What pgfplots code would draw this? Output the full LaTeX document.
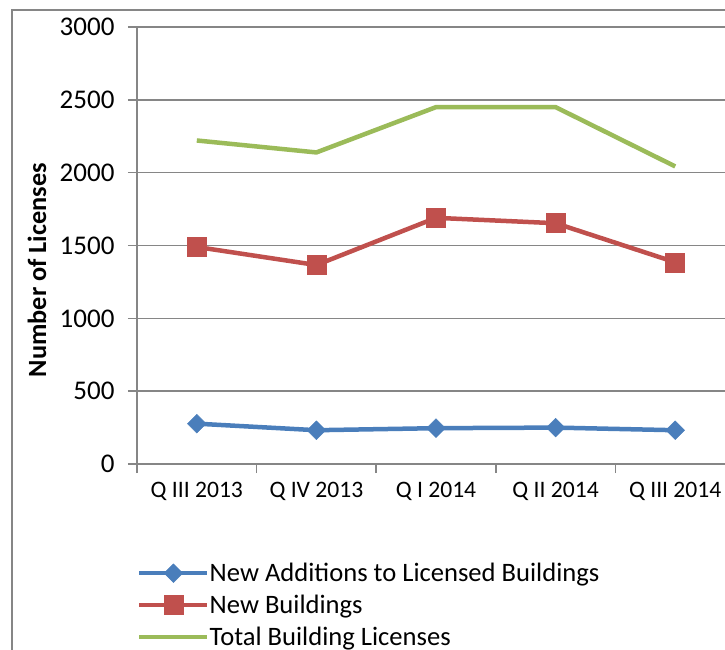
\documentclass[border=0pt]{standalone}
\usepackage{fontspec}
\setmainfont{Carlito}
\usepackage{pgfplots}
\pgfplotsset{compat=1.18}
\definecolor{sblue}{HTML}{4A7EBB}
\definecolor{sred}{HTML}{C0504D}
\definecolor{sgreen}{HTML}{9BBB59}
\definecolor{gridgray}{HTML}{868686}
\begin{document}
\begin{tikzpicture}
\useasboundingbox (0pt,0pt) rectangle (725pt,-649pt);
\clip (0pt,0pt) rectangle (725pt,-649pt);
\draw[gridgray, line width=2pt] (12pt,-660pt) -- (12pt,-10pt) -- (740pt,-10pt);
\begin{pgfinterruptboundingbox}
\begin{axis}[
  at={(137pt,-464pt)}, anchor=south west,
  scale only axis, width=598pt, height=437pt,
  xmin=-0.5, xmax=4.5, ymin=0, ymax=3000,
  axis x line*=bottom, axis y line*=left,
  axis line style={gridgray, line width=1.5pt, -},
  ytick={0,500,...,3000},
  ymajorgrids, grid style={gridgray, line width=1.5pt},
  xtick={-0.5,0.5,1.5,2.5,3.5,4.5}, xticklabels={},
  extra x ticks={0,1,2,3,4},
  extra x tick labels={Q III 2013, Q IV 2013, Q I 2014, Q II 2014, Q III 2014},
  extra x tick style={major tick length=0pt, xticklabel style={yshift=-15pt, font=\fontsize{23.6}{28}\selectfont}},
  yticklabel style={xshift=-10pt},
  tick align=outside, major tick length=9pt,
  tick style={gridgray, line width=1.5pt},
  /pgf/number format/assume math mode=true,
  /pgf/number format/1000 sep={},
  ticklabel style={font=\fontsize{27}{32}\selectfont, text=black},
  legend style={at={(axis description cs:0.0,-0.222)}, anchor=north west,
    draw=none, fill=none, font=\fontsize{26.6}{32}\selectfont,
    row sep=8pt, inner sep=0pt, cells={anchor=west},
    nodes={inner xsep=0pt}},
  legend image code/.code={\draw[mark repeat=2,mark phase=2] plot coordinates {(0pt,0pt) (34pt,0pt) (68pt,0pt)};},
  clip=false,
]
\addplot[sblue, line width=4.5pt, mark=square*, mark size=6.6pt,
  mark options={rotate=45, line width=0.5pt, solid}]
  coordinates {(0,277) (1,232) (2,246) (3,250) (4,232)};
\addlegendentry{New Additions to Licensed Buildings}
\addplot[sred, line width=4.5pt, mark=square*, mark size=9.5pt,
  mark options={line width=0.5pt, solid}]
  coordinates {(0,1490) (1,1366) (2,1690) (3,1653) (4,1385)};
\addlegendentry{New Buildings}
\addplot[sgreen, line width=4.5pt]
  coordinates {(0,2221) (1,2139) (2,2450) (3,2450) (4,2043)};
\addlegendentry{Total Building Licenses}
\end{axis}
\end{pgfinterruptboundingbox}
\node[rotate=90, font=\bfseries\fontsize{26.3}{32}\selectfont] at (37pt,-270pt) {Number of Licenses};
\end{tikzpicture}
\end{document}
